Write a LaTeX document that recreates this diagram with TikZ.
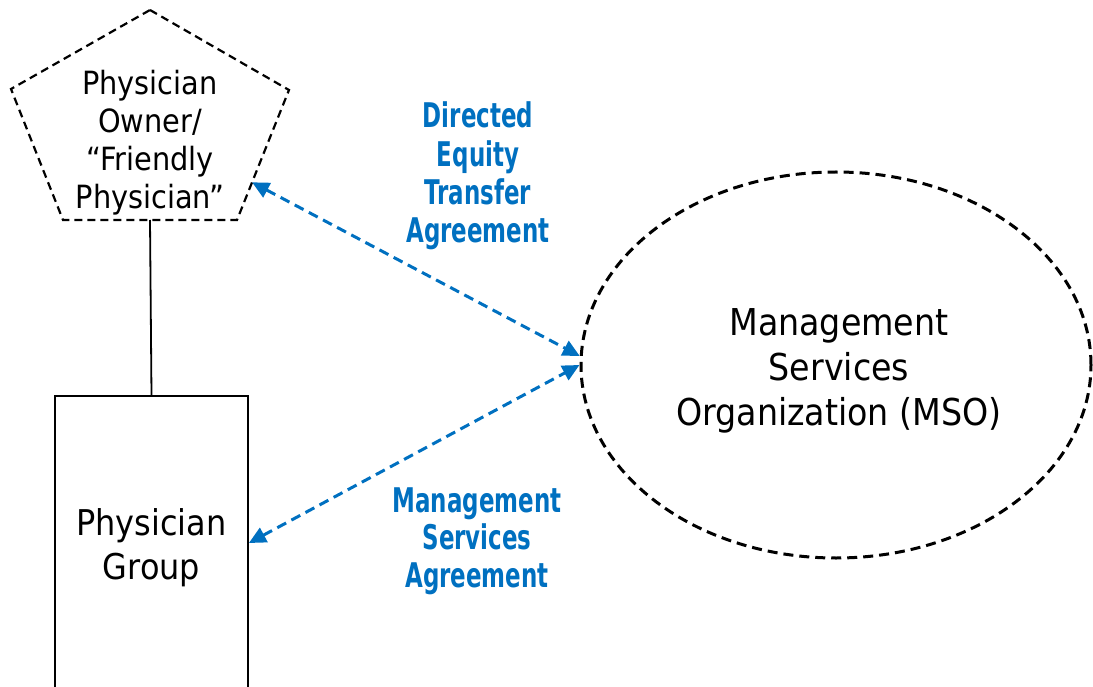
\documentclass[tikz,border=0pt]{standalone}
\usepackage{fontspec}
\setmainfont{DejaVu Sans Condensed}
\newfontfamily\agreefont{DejaVu Sans Condensed Bold}[FakeStretch=0.75]
\usepackage{xcolor}
\usetikzlibrary{shapes.geometric,arrows.meta,calc,positioning}
\definecolor{agreeblue}{RGB}{0,112,192}

\begin{document}
\begin{tikzpicture}[x=1pt, y=-1pt,
		arrow/.style = {agreeblue, line width=3pt, dash pattern=on 10pt off 6pt, {Triangle[length=17pt,width=16pt]}-{Triangle[length=17pt,width=16pt]}},
		agree/.style = {text=agreeblue, align=center, inner sep=0pt},
		party/.style = {align=center, inner sep=0pt}]

		\useasboundingbox (0,0) rectangle (1093,687);
		\clip (0,0) rectangle (1093,687);

		% Owner
		\coordinate (pt) at (150,10);
		\coordinate (pr) at (289,90);
		\coordinate (pbr) at (237,220);
		\coordinate (pbl) at (63,220);
		\coordinate (pl) at (11,89);
		\draw[line width=2.2pt, dash pattern=on 8pt off 5pt] (pt) -- (pr) -- (pbr) -- (pbl) -- (pl) -- cycle;

		\node[party, font=\fontsize{32}{38}\selectfont] (owner) at (150,143) {Physician\\Owner/\\“Friendly\\Physician”};

		\coordinate (ownerbase) at ($(pbl)!0.5!(pbr)$);
		\coordinate (ownerside) at ($(pr)!0.71!(pbr)$);

		% Group
		\node[draw, line width=1.8pt, minimum width=193pt, minimum height=304pt, align=center, font=\fontsize{35.5}{44}\selectfont] (group) at (151.5,548) {Physician\\Group};

		% MSO
		\node[ellipse, draw, line width=3pt, dash pattern=on 10pt off 6pt, minimum width=510pt, minimum height=386pt, inner sep=0pt] (mso) at (836,365) {};

		\node[party, font=\fontsize{37}{45}\selectfont] (msotext) at (839,371) {Management\\Services\\Organization (MSO)};

		% Agreements
		\node[agree, font=\agreefont\fontsize{34}{38.3}\selectfont] (deta) at (478,176) {Directed\\Equity\\Transfer\\Agreement};

		\node[agree, font=\agreefont\fontsize{34}{37.5}\selectfont] (msa) at (477,541) {Management\\Services\\Agreement};

		% Arrows
		\draw[line width=1.8pt] (ownerbase) -- (group.north);
		\draw[arrow] (ownerside) -- (mso.178.5);
		\draw[arrow] ([yshift=5pt]group.east) -- (mso.180);

	\end{tikzpicture}
\end{document}
